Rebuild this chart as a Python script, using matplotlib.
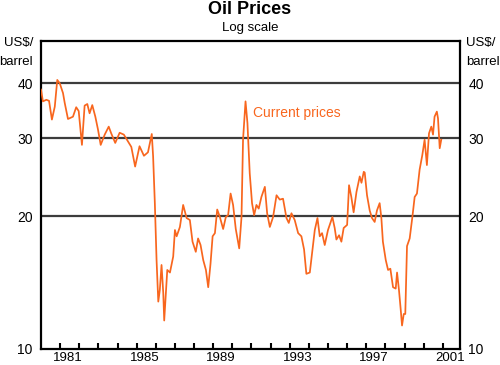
import matplotlib
matplotlib.use('Agg')
import matplotlib.pyplot as plt
from matplotlib.ticker import FixedLocator, FixedFormatter, NullLocator, NullFormatter

plt.rcParams['font.family'] = ['Liberation Sans', 'DejaVu Sans']

# Oil price, US$/barrel (decimal year, price)
years = [
    1980.00, 1980.10, 1980.28, 1980.42, 1980.57, 1980.72, 1980.85, 1980.98,
    1981.15, 1981.24, 1981.41, 1981.67, 1981.84, 1981.97, 1982.14, 1982.28,
    1982.42, 1982.54, 1982.68, 1982.84, 1982.98, 1983.12, 1983.33, 1983.54,
    1983.67, 1983.88, 1984.11, 1984.33, 1984.51, 1984.72, 1984.92, 1985.15,
    1985.38, 1985.59, 1985.79, 1985.86, 1985.95, 1986.04, 1986.13, 1986.21,
    1986.30, 1986.39, 1986.44, 1986.53, 1986.60, 1986.74, 1986.91, 1987.00,
    1987.09, 1987.26, 1987.43, 1987.61, 1987.78, 1987.92, 1988.09, 1988.21,
    1988.34, 1988.48, 1988.62, 1988.74, 1988.86, 1988.97, 1989.09, 1989.21,
    1989.35, 1989.52, 1989.66, 1989.78, 1989.91, 1990.04, 1990.18, 1990.36,
    1990.48, 1990.56, 1990.69, 1990.79, 1990.91, 1991.03, 1991.14, 1991.26,
    1991.38, 1991.52, 1991.70, 1991.82, 1991.96, 1992.13, 1992.31, 1992.48,
    1992.65, 1992.83, 1992.95, 1993.09, 1993.26, 1993.44, 1993.61, 1993.75,
    1993.87, 1994.05, 1994.17, 1994.31, 1994.45, 1994.57, 1994.69, 1994.83,
    1995.00, 1995.23, 1995.35, 1995.44, 1995.58, 1995.70, 1995.82, 1996.00,
    1996.10, 1996.22, 1996.34, 1996.49, 1996.66, 1996.75, 1996.87, 1996.92,
    1997.04, 1997.18, 1997.30, 1997.44, 1997.56, 1997.70, 1997.79, 1997.87,
    1998.02, 1998.14, 1998.26, 1998.40, 1998.54, 1998.61, 1998.71, 1998.80,
    1998.87, 1998.96, 1999.04, 1999.13, 1999.27, 1999.41, 1999.53, 1999.65,
    1999.79, 1999.93, 2000.05, 2000.17, 2000.28, 2000.40, 2000.49, 2000.57,
    2000.69, 2000.75, 2000.84, 2000.92,
]
prices = [
    38.7, 36.4, 36.7, 36.5, 33.1, 35.4, 40.7, 40.0,
    38.0, 36.1, 33.2, 33.6, 35.3, 34.6, 29.0, 35.6,
    35.9, 34.2, 35.7, 33.6, 31.4, 29.0, 30.6, 31.9,
    30.8, 29.3, 30.9, 30.6, 29.7, 28.7, 25.9, 28.8,
    27.4, 27.9, 30.7, 27.3, 21.4, 15.9, 12.8, 13.6,
    15.5, 13.4, 11.6, 13.4, 15.1, 14.9, 16.2, 18.6,
    18.0, 18.9, 21.2, 19.8, 19.6, 17.5, 16.6, 17.8,
    17.2, 15.9, 15.1, 13.8, 15.6, 18.0, 18.3, 20.7,
    19.9, 18.7, 19.9, 20.1, 22.5, 21.2, 18.7, 16.9,
    19.9, 29.8, 36.4, 32.5, 25.0, 21.4, 20.1, 21.2,
    20.8, 22.1, 23.3, 20.3, 18.9, 19.9, 22.3, 21.8,
    21.9, 19.8, 19.3, 20.3, 19.6, 18.3, 18.0, 16.8,
    14.8, 14.9, 16.5, 18.6, 19.8, 18.0, 18.3, 17.2,
    18.6, 19.9, 18.8, 17.7, 18.1, 17.5, 18.8, 19.1,
    23.5, 22.1, 20.4, 22.7, 24.6, 23.8, 25.2, 25.1,
    22.3, 20.6, 19.8, 19.4, 20.6, 21.4, 19.8, 17.5,
    15.9, 15.1, 15.2, 13.8, 13.7, 14.9, 13.6, 12.3,
    11.3, 12.0, 12.0, 17.1, 17.8, 19.9, 22.1, 22.5,
    25.5, 27.5, 29.8, 26.1, 30.8, 31.9, 30.6, 33.6,
    34.5, 33.3, 28.5, 29.8,
]

tick_years = list(range(1981, 2002))
label_years = [1981, 1985, 1989, 1993, 1997, 2001]
price_ticks = [10, 20, 30, 40]
grid_prices = [20, 30, 40]

LINE = '#F8661E'

fig = plt.figure(figsize=(5, 3.65), dpi=100)
ax = fig.add_axes([0.082, 0.044, 0.838, 0.845])

ax.set_yscale('log')
ax.set_ylim(10, 50)
ax.set_xlim(1980, 2001.9)

for p in grid_prices:
    ax.axhline(p, color='#3c3c3c', lw=1.6, zorder=1)

ax.plot(years, prices, color=LINE, lw=1.25, zorder=3)

ax.text(1991.07, 34.3, 'Current prices', color=LINE, fontsize=10,
        ha='left', va='center')

# y axis: labels on both sides, no tick marks
ax.yaxis.set_major_locator(FixedLocator(price_ticks))
ax.yaxis.set_major_formatter(FixedFormatter([str(v) for v in price_ticks]))
ax.yaxis.set_minor_locator(NullLocator())
ax.tick_params(axis='y', which='both', length=0, labelsize=10, pad=6,
               left=True, right=True, labelleft=True, labelright=True)

# x axis: year ticks pointing in, labels sit inside the year
ax.xaxis.set_major_locator(FixedLocator(tick_years))
ax.xaxis.set_major_formatter(NullFormatter())
ax.xaxis.set_minor_locator(FixedLocator([y + 0.4 for y in label_years]))
ax.xaxis.set_minor_formatter(FixedFormatter([str(y) for y in label_years]))
ax.tick_params(axis='x', which='major', direction='in', length=4, width=1.5,
               color='black')
ax.tick_params(axis='x', which='minor', length=0, labelsize=9.5, pad=2)

for s in ax.spines.values():
    s.set_linewidth(1.6)
    s.set_color('black')

fig.text(0.5, 1 - 14.5 / 365, 'Oil Prices', fontsize=13, fontweight='bold',
         ha='center', va='baseline')
fig.text(0.5, 1 - 31 / 365, 'Log scale', fontsize=9.5,
         ha='center', va='baseline')

for y_px, txt in [(43, 'US$/'), (62, 'barrel')]:
    fig.text(33 / 500, 1 - y_px / 365, txt, fontsize=9.5, ha='right', va='center')
    fig.text(466 / 500, 1 - y_px / 365, txt, fontsize=9.5, ha='left', va='center')

fig.savefig('out.png', dpi=100)
